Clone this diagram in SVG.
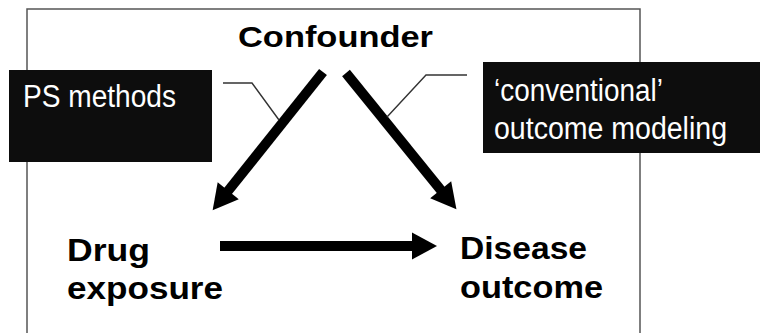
<svg xmlns="http://www.w3.org/2000/svg" width="760" height="333" viewBox="0 0 760 333">
<defs>
<marker id="ah" markerUnits="strokeWidth" markerWidth="3" markerHeight="3" viewBox="0 -1.5 2.7 3" refX="0.1" refY="0" orient="auto">
<path d="M0,-1.35 L2.5,0 L0,1.35 Z" fill="#000"/>
</marker>
<style>
.bold{font-family:"Liberation Sans",Arial,sans-serif;font-weight:bold;fill:#000}
.lab{font-family:"Liberation Sans",Arial,sans-serif;fill:#fff}
.arr{stroke:#000;stroke-width:10;fill:none;marker-end:url(#ah)}
.lead{stroke:#333;stroke-width:1.4;fill:none}
.box{fill:#0d0d0d}
</style>
</defs>
<rect x="0" y="0" width="760" height="333" fill="#fff"/>
<rect id="frame" x="27" y="9" width="613" height="340" fill="none" stroke="#555" stroke-width="1.5"/>
<g id="connectors">
<line class="arr" x1="323" y1="72" x2="227.6" y2="191.5"/>
<line class="arr" x1="346" y1="73" x2="441.3" y2="190.6"/>
<line class="arr" x1="220" y1="246" x2="413" y2="246"/>
<polyline class="lead" points="223,83 252,83 279,120"/>
<polyline class="lead" points="467,75 426,75 387,117"/>
</g>
<g id="confounder">
<text class="bold" x="238" y="47" font-size="30" textLength="195" lengthAdjust="spacingAndGlyphs">Confounder</text>
</g>
<g id="drug-exposure">
<text class="bold" x="67" y="261" font-size="32" textLength="83" lengthAdjust="spacingAndGlyphs">Drug</text>
<text class="bold" x="67" y="299" font-size="32" textLength="156" lengthAdjust="spacingAndGlyphs">exposure</text>
</g>
<g id="disease-outcome">
<text class="bold" x="460" y="259" font-size="32" textLength="127" lengthAdjust="spacingAndGlyphs">Disease</text>
<text class="bold" x="460" y="298" font-size="32" textLength="143" lengthAdjust="spacingAndGlyphs">outcome</text>
</g>
<g id="ps-methods">
<rect class="box" x="9" y="70" width="203" height="92"/>
<text class="lab" x="23" y="107" font-size="31" textLength="153" lengthAdjust="spacingAndGlyphs">PS methods</text>
</g>
<g id="conventional">
<rect class="box" x="483" y="62" width="277" height="91"/>
<text class="lab" x="494" y="101" font-size="31" textLength="169" lengthAdjust="spacingAndGlyphs">‘conventional’</text>
<text class="lab" x="494" y="139" font-size="31" textLength="233" lengthAdjust="spacingAndGlyphs">outcome modeling</text>
</g>
</svg>
